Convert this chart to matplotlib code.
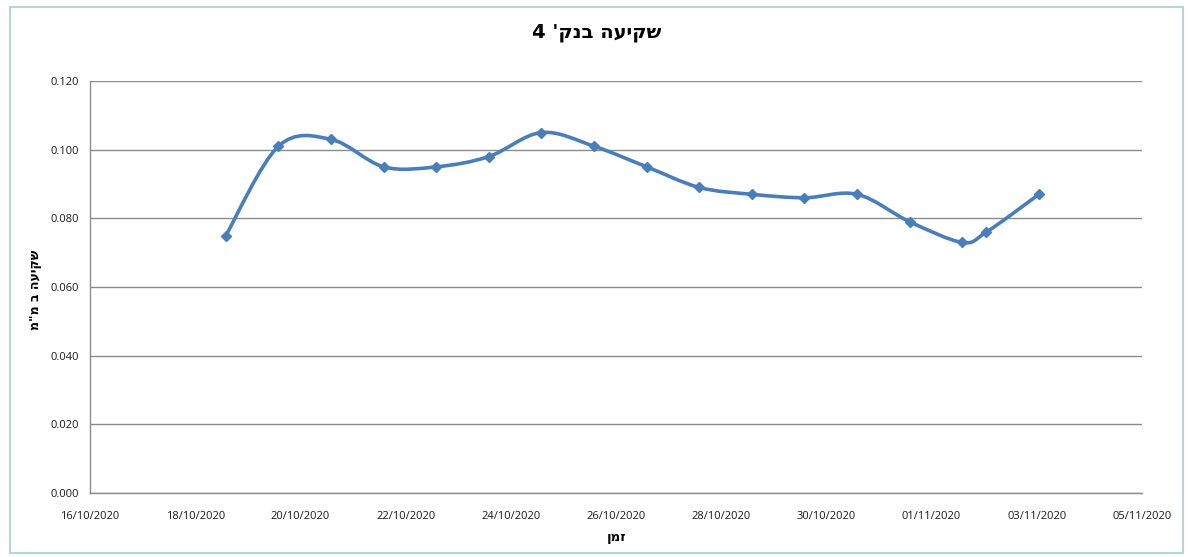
import matplotlib
matplotlib.use('Agg')
import matplotlib.pyplot as plt
import matplotlib.dates as mdates
from matplotlib.path import Path
from matplotlib.patches import PathPatch, Rectangle
import numpy as np
import pandas as pd

# Data
dates = pd.to_datetime([
    '2020-10-18 14:00', '2020-10-19 14:00', '2020-10-20 14:00', '2020-10-21 14:00',
    '2020-10-22 14:00', '2020-10-23 14:00', '2020-10-24 14:00', '2020-10-25 14:00',
    '2020-10-26 14:00', '2020-10-27 14:00', '2020-10-28 14:00', '2020-10-29 14:00',
    '2020-10-30 14:00', '2020-10-31 14:00', '2020-11-01 14:00', '2020-11-02 01:00',
    '2020-11-03 01:00',
])
settlement = [0.075, 0.101, 0.103, 0.095, 0.095, 0.098, 0.105, 0.101,
              0.095, 0.089, 0.087, 0.086, 0.087, 0.079, 0.073, 0.076, 0.087]

# Hebrew strings given in visual (left-to-right) order
title = "שקיעה בנק' 4"[::-1]
xlabel = "זמן"[::-1]
ylabel = 'שקיעה ב מ"מ'[::-1]

line_color = '#4A7EBB'

fig = plt.figure(figsize=(11.92, 5.57), dpi=100)
ax = fig.add_axes([90 / 1192, 1 - 493 / 557, (1142 - 90) / 1192, (493 - 81) / 557])

# smoothed line (Catmull-Rom as cubic Bezier, like Excel's smoothed line)
x = mdates.date2num(dates)
y = np.array(settlement)
verts = [(x[0], y[0])]
codes = [Path.MOVETO]
n = len(x)
for i in range(n - 1):
    x0, y0 = (x[i - 1], y[i - 1]) if i > 0 else (x[i], y[i])
    x3, y3 = (x[i + 2], y[i + 2]) if i + 2 < n else (x[i + 1], y[i + 1])
    c1 = (x[i] + (x[i + 1] - x0) / 6, y[i] + (y[i + 1] - y0) / 6)
    c2 = (x[i + 1] - (x3 - x[i]) / 6, y[i + 1] - (y3 - y[i]) / 6)
    verts += [c1, c2, (x[i + 1], y[i + 1])]
    codes += [Path.CURVE4] * 3
ax.add_patch(PathPatch(Path(verts, codes), facecolor='none', edgecolor=line_color,
                       lw=2.6, zorder=3, capstyle='round', joinstyle='round'))
ax.plot(dates, settlement, linestyle='none', marker='D', markersize=5.5,
        color=line_color, zorder=4)

ax.set_xlim(pd.Timestamp('2020-10-16'), pd.Timestamp('2020-11-05'))
ax.set_ylim(0, 0.12)
ticks = pd.date_range('2020-10-16', '2020-11-05', freq='2D')
ax.set_xticks(ticks)
ax.xaxis.set_major_formatter(mdates.DateFormatter('%d/%m/%Y'))
ax.set_yticks(np.arange(0, 0.121, 0.02))
ax.yaxis.set_major_formatter(matplotlib.ticker.FormatStrFormatter('%.3f'))
ax.tick_params(length=0, labelsize=8, colors='#1a1a1a', pad=8)
ax.tick_params(axis='x', pad=13)
for lab in ax.get_xticklabels() + ax.get_yticklabels():
    lab.set_fontfamily('Open Sans')
ax.grid(axis='y', color='#8C8C8C', lw=1)
ax.set_axisbelow(True)
for s in ['top', 'right']:
    ax.spines[s].set_visible(False)
for s in ['left', 'bottom']:
    ax.spines[s].set_color('#8C8C8C')
    ax.spines[s].set_linewidth(1)

fig.text(597 / 1192, 1 - 32 / 557, title, ha='center', va='center',
         fontsize=14, fontweight='bold', family='DejaVu Sans')
fig.text(617 / 1192, 1 - 537 / 557, xlabel, ha='center', va='center',
         fontsize=9.5, fontweight='bold', family='DejaVu Sans')
fig.text(36 / 1192, 1 - 290 / 557, ylabel, ha='center', va='center', rotation=90,
         fontsize=9, fontweight='bold', family='DejaVu Sans')

# light outer chart frame
fig.patches.append(Rectangle((10 / 1192, 4 / 557), 1173 / 1192, 546 / 557,
                             transform=fig.transFigure, fill=False,
                             edgecolor='#B7D4DB', lw=1.5))

fig.savefig('out.png', dpi=100)
